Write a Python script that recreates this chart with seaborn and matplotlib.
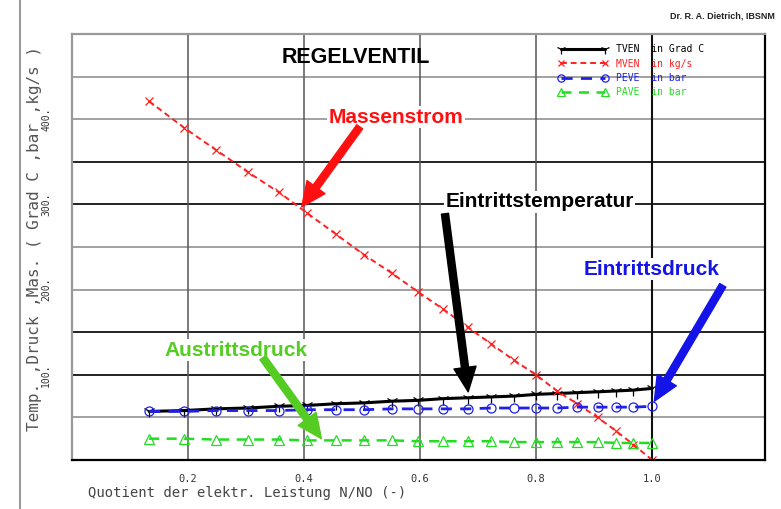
import matplotlib
matplotlib.use("Agg")
import matplotlib.pyplot as plt
import seaborn as sns
import pandas as pd

# values
quotient = [0.133, 0.193, 0.248, 0.303, 0.357, 0.405, 0.455, 0.503, 0.552, 0.597, 0.640,
            0.682, 0.723, 0.762, 0.800, 0.836, 0.871, 0.906, 0.938, 0.968, 1.0]
tven = [57, 58, 60, 61, 63, 64, 66, 67, 69, 70, 72, 73, 74, 75, 77, 78, 79, 80, 81, 82, 84]
mven = [421, 390, 364, 338, 314, 290, 265, 241, 219, 197, 177, 156, 136, 117, 100, 81, 66, 50, 34, 18, 0]
peve = [57, 57, 58, 58, 58, 59, 59, 59, 60, 60, 60, 60, 61, 61, 61, 61, 62, 62, 62, 62, 63]
pave = [25, 25, 24, 24, 24, 23, 23, 23, 23, 22, 22, 22, 22, 21, 21, 21, 21, 21, 20, 20, 20]

legend_labels = ["TVEN  in Grad C", "MVEN  in kg/s", "PEVE  in bar", "PAVE  in bar"]
x_ticks = [0.2, 0.4, 0.6, 0.8, 1.0]
y_ticks = [100, 200, 300, 400]
grid_light = [50, 200, 250, 400, 450]
grid_dark = [100, 150, 300, 350]

df = pd.DataFrame({"q": quotient, "TVEN": tven, "MVEN": mven, "PEVE": peve, "PAVE": pave})

sns.set_style("white")
plt.rcParams["font.family"] = ["DejaVu Sans Mono"]

fig = plt.figure(figsize=(7.81, 5.09), dpi=100)
ax = fig.add_axes([0.0922, 0.0963, 0.8875, 0.8370])

# grid
for v in grid_light:
    ax.axhline(v, color="#9a9a9a", lw=1.3, zorder=0)
for v in grid_dark:
    ax.axhline(v, color="#111111", lw=1.3, zorder=0)
for v in x_ticks[:-1]:
    ax.axvline(v, color="#555555", lw=1.1, zorder=0)
ax.axvline(x_ticks[-1], color="#111111", lw=1.5, zorder=0)

# series (seaborn paints marker edges white by default, so set them explicitly)
series = [
    ("TVEN", "black", 2.2, "-", "1", 9),
    ("MVEN", "#ff2020", 1.4, (0, (3, 2)), "x", 6),
    ("PEVE", "#2020e6", 2.0, (0, (4, 3)), "o", 6.5),
    ("PAVE", "#22dd22", 1.8, (0, (4, 3)), "^", 7),
]
for (col_name, col, lw, ls, mk, ms), lab in zip(series, legend_labels):
    sns.lineplot(data=df, x="q", y=col_name, ax=ax, color=col, lw=lw, linestyle=ls,
                 marker=mk, markersize=ms, markerfacecolor="none", markeredgecolor=col,
                 markeredgewidth=0.9, label=lab)

ax.set_xlim(0, 1.195)
ax.set_ylim(0, 500)

ax.set_xticks(x_ticks)
ax.set_xticklabels([f"{t:.1f}" for t in x_ticks], fontsize=7.5, color="#333333")
ax.tick_params(axis="x", length=0, pad=10)
ax.set_yticks(y_ticks)
ax.set_yticklabels([f"{t}." for t in y_ticks], fontsize=7, color="#333333",
                   rotation=90, va="center")
ax.tick_params(axis="y", length=6, width=1.2, direction="out", pad=9, color="#444444")

ax.set_ylabel("Temp. ,Druck ,Mas. ( Grad C ,bar ,kg/s )", fontsize=11.5, color="#555555")
ax.yaxis.set_label_coords(-0.043, 0.52)
ax.set_xlabel("Quotient der elektr. Leistung N/NO (-)", fontsize=10, color="#444444",
              ha="left", va="center")
ax.xaxis.set_label_coords(0.023, -0.077)

for side in ["left", "top"]:
    ax.spines[side].set_color("#999999")
    ax.spines[side].set_linewidth(1.6)
for side in ["right", "bottom"]:
    ax.spines[side].set_color("black")
    ax.spines[side].set_linewidth(1.6)

leg = ax.legend(loc="upper left", bbox_to_anchor=(0.695, 0.985), frameon=False,
                fontsize=7, handlelength=5.2, handletextpad=0.8, labelspacing=0.45,
                labelcolor="linecolor", borderaxespad=0, markerscale=0.8, numpoints=2)

# annotations
bold = dict(family=["Liberation Sans", "DejaVu Sans"], fontweight="bold")
ax.text(0.489, 472, "REGELVENTIL", color="black", fontsize=15.5, ha="center", va="center", **bold)

notes = [
    ("Massenstrom", "#ff1010", (0.559, 402), (0.496, 391), (0.396, 297)),
    ("Eintrittstemperatur", "black", (0.806, 303), (0.643, 289), (0.683, 80)),
    ("Eintrittsdruck", "#1414e8", (0.999, 224), (1.122, 205), (1.004, 69)),
    ("Austrittsdruck", "#55cc22", (0.282, 129), (0.329, 120), (0.430, 25)),
]
for text, col, pos, tail, tip in notes:
    ax.text(pos[0], pos[1], text, color=col, fontsize=15, ha="center", va="center",
            bbox=dict(facecolor="white", edgecolor="none", pad=1), zorder=5, **bold)
    ax.annotate("", xy=tip, xytext=tail, zorder=6,
                arrowprops=dict(arrowstyle="simple,head_length=1.1,head_width=1.0,tail_width=0.32",
                                color=col, mutation_scale=16, shrinkA=0, shrinkB=0))

fig.text(0.992, 0.968, "Dr. R. A. Dietrich, IBSNM", fontsize=6.5, ha="right", va="center",
         color="#222222", **bold)
fig.add_artist(plt.Line2D([0.026, 0.026], [0.0, 1.0], color="#9a9a9a", lw=1.5))

fig.savefig("out.png", dpi=100)
